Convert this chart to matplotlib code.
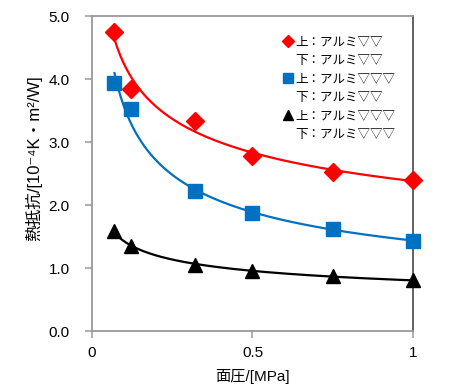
import numpy as np
import matplotlib
matplotlib.use("Agg")
import matplotlib.pyplot as plt
from matplotlib.lines import Line2D

plt.rcParams['font.family'] = ['Liberation Sans', 'Noto Sans CJK JP', 'DejaVu Sans']

# surface pressure [MPa]
pressure = [0.07, 0.12, 0.32, 0.50, 0.75, 1.00]
# thermal resistance [10^-4 K m2/W]
red_vals = [4.75, 3.85, 3.33, 2.78, 2.52, 2.40]
blue_vals = [3.93, 3.52, 2.22, 1.87, 1.62, 1.43]
black_vals = [1.58, 1.35, 1.05, 0.95, 0.87, 0.81]

labels = [("上：アルミ▽▽", "下：アルミ▽▽"),
          ("上：アルミ▽▽▽", "下：アルミ▽▽"),
          ("上：アルミ▽▽▽", "下：アルミ▽▽▽")]
colors = ['#ff0000', '#0070c0', '#000000']
markers = ['D', 's', '^']
sizes = [9, 10, 10]
xticks = [0, 0.5, 1]
xticklabels = ['0', '0.5', '1']
yticks = [0, 1, 2, 3, 4, 5]

fig = plt.figure(figsize=(4.5, 3.92), dpi=100)
ax = fig.add_axes([0.2044, 0.1556, 0.9178 - 0.2044, 0.959 - 0.1556])

x = np.array(pressure)
xs = np.linspace(x.min(), x.max(), 200)
handles = []
leg_labels = []
for vals, c, m, s, lab in zip([red_vals, blue_vals, black_vals], colors, markers, sizes, labels):
    y = np.array(vals)
    # power-law trend line (like excel)
    b, loga = np.polyfit(np.log(x), np.log(y), 1)
    ax.plot(xs, np.exp(loga) * xs ** b, color=c, lw=1.6, zorder=2)
    ax.plot(x, y, ls='none', marker=m, ms=s, color=c, zorder=3, clip_on=False)
    handles.append(Line2D([], [], ls='none', marker=m, ms=6.5, color=c))
    handles.append(Line2D([], [], ls='none'))
    leg_labels += list(lab)

ax.set_xlim(0, 1)
ax.set_ylim(0, 5)
ax.set_xticks(xticks)
ax.set_xticklabels(xticklabels)
ax.set_yticks(yticks)
ax.set_yticklabels([f"{v:.1f}" for v in yticks])
ax.tick_params(axis='both', labelsize=11, color='#999999', length=5, width=1.1)
ax.tick_params(axis='y', pad=11)
ax.tick_params(axis='x', pad=6)

for side in ['left', 'bottom', 'top']:
    ax.spines[side].set_color('#999999')
    ax.spines[side].set_linewidth(1.3)
ax.spines['right'].set_color('#555555')
ax.spines['right'].set_linewidth(1.3)

ax.set_xlabel("面圧/[MPa]", fontsize=11, labelpad=6)
ax.set_ylabel("熱抵抗/[10⁻⁴K・m²/W]", fontsize=12)
ax.yaxis.set_label_coords(-0.155, 0.55)

ax.legend(handles, leg_labels, loc='upper left', bbox_to_anchor=(0.6, 0.935),
          frameon=False, fontsize=9, handlelength=0.6, handletextpad=0.25,
          labelspacing=0.52, borderaxespad=0, borderpad=0)

fig.savefig("out.png", dpi=100)
